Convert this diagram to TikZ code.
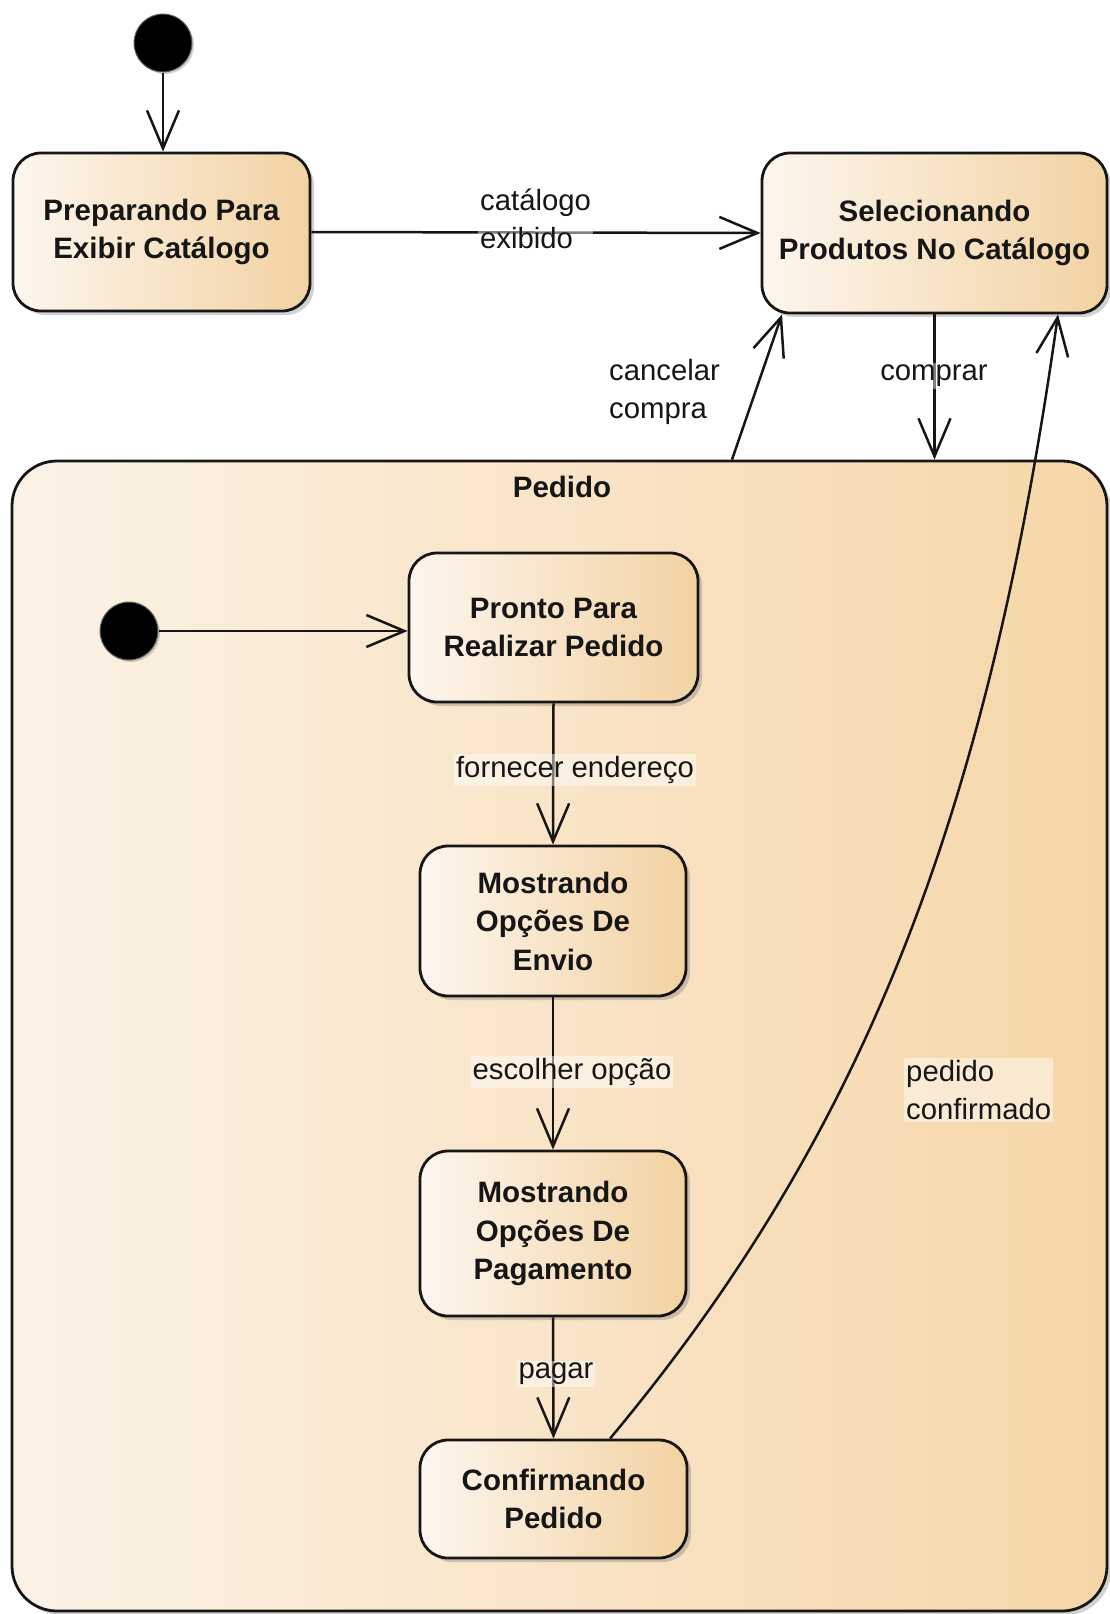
\documentclass[tikz,border=0pt]{standalone}
\usepackage{fontspec}
\setmainfont{Liberation Sans}
\usetikzlibrary{arrows.meta,shadows,calc}

\definecolor{ink}{HTML}{161616}
\definecolor{stL}{HTML}{FDF6EE}
\definecolor{stM}{HTML}{FAEBD8}
\definecolor{stR}{HTML}{F2D2A2}
\definecolor{frL}{HTML}{FBF2E6}
\definecolor{frR}{HTML}{F6D6A8}

\begin{document}
\begin{tikzpicture}[x=1pt,y=-1pt,
  statebox/.style={rectangle, draw=ink, line width=2.8pt, rounded corners=28pt,
    left color=stL, middle color=stM, right color=stR,
    drop shadow={shadow xshift=4pt, shadow yshift=-4pt, opacity=.3, fill=black!60},
    font=\bfseries\fontsize{29.5}{38.5}\selectfont, text=ink, align=center, inner sep=0pt},
  compound/.style={rectangle, draw=ink, line width=2.8pt, rounded corners=45pt,
    left color=frL, right color=frR,
    drop shadow={shadow xshift=4pt, shadow yshift=-4pt, opacity=.3, fill=black!60},
    minimum width=1095pt, minimum height=1150pt, inner sep=0pt},
  initial/.style={circle, fill=black, draw=black!60, line width=1pt, minimum size=58pt, inner sep=0pt,
    drop shadow={shadow xshift=2pt, shadow yshift=-2pt, opacity=.3, fill=black!60}},
  flow/.style={draw=ink, line width=2.5pt, -{Straight Barb[length=38pt,width=32pt,line width=2.5pt]}},
  lbl/.style={font=\fontsize{29.3}{38.5}\selectfont, text=ink, fill=white, fill opacity=.45,
    text opacity=1, inner sep=2pt, align=left}
]
\useasboundingbox (0,0) rectangle (1109,1614);

% composite state
\node[compound] (pedido) at (559.5,1036) {};
\node[font=\bfseries\fontsize{29.5}{38.5}\selectfont, text=ink] (pedidotitle) at (562,487) {Pedido};

% top-level states
\node[initial] (i1) at (163,43) {};
\node[statebox, minimum width=297pt, minimum height=158pt] (prep) at (161.5,232)
  {Preparando Para\\Exibir Catálogo};
\node[statebox, minimum width=345pt, minimum height=160pt] (selec) at (934.5,233)
  {Selecionando\\Produtos No Catálogo};

% states inside Pedido
\node[initial] (i2) at (129,631) {};
\node[statebox, minimum width=289pt, minimum height=149pt] (pronto) at (553.5,627.5)
  {Pronto Para\\Realizar Pedido};
\node[statebox, minimum width=266pt, minimum height=150pt] (envio) at (553,921)
  {Mostrando\\Opções De\\Envio};
\node[statebox, minimum width=266pt, minimum height=165pt] (pagto) at (553,1233.5)
  {Mostrando\\Opções De\\Pagamento};
\node[statebox, minimum width=267pt, minimum height=118pt] (conf) at (553.5,1499)
  {Confirmando\\Pedido};

% transitions
\draw[flow] (i1) -- (i1 |- prep.north);
\draw[flow] (prep.east) -- (selec.west);
\draw[flow] (selec.south) -- (selec.south |- pedido.north);
\draw[flow] ([xshift=172.5pt]pedido.north) -- ([xshift=-152.5pt]selec.south);
\draw[flow] (i2) -- (i2 -| pronto.west);
\draw[flow] (pronto.south) -- (envio.north);
\draw[flow] (envio.south) -- (pagto.north);
\draw[flow] (pagto.south) -- (conf.north);
\draw[flow] ([xshift=56.5pt]conf.north) .. controls (866,1132) and (988,812) .. ([xshift=123.5pt]selec.south);

% transition labels
\node[lbl, anchor=west] (lcat) at (478,219) {catálogo\\exibido};
\node[lbl, anchor=west] (lcanc) at (607,392) {cancelar\\compra};
\node[lbl] (lcomp) at (934,376) {comprar};
\node[lbl] (lforn) at (575,770) {fornecer endereço};
\node[lbl] (lesc) at (572,1072) {escolher opção};
\node[lbl] (lpag) at (556,1374) {pagar};
\node[lbl, anchor=west] (lconf) at (904,1090) {pedido\\confirmado};
\end{tikzpicture}
\end{document}
